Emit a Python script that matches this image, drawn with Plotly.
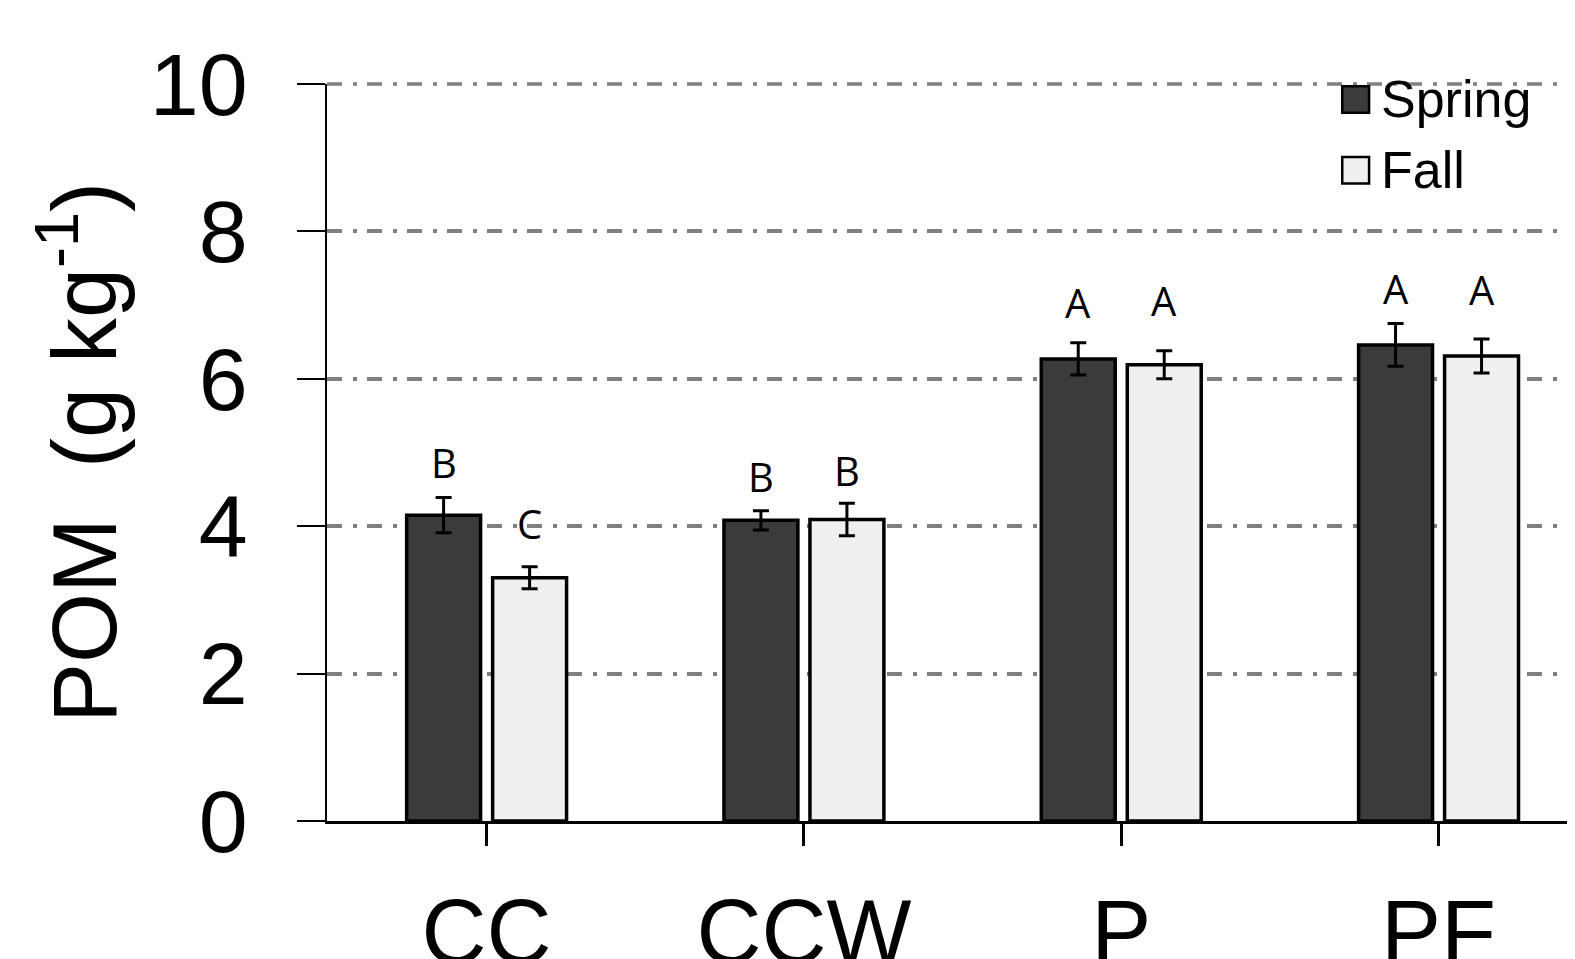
import plotly.graph_objects as go

categories = ["CC", "CCW", "P", "PF"]
spring = [4.15, 4.08, 6.27, 6.46]
spring_se = [0.24, 0.13, 0.22, 0.29]
fall = [3.30, 4.09, 6.19, 6.31]
fall_se = [0.15, 0.22, 0.19, 0.23]
spring_letters = ["B", "B", "A", "A"]
fall_letters = ["C", "B", "A", "A"]
spring_letter_y = [4.87, 4.67, 7.03, 7.23]
fall_letter_y = [4.04, 4.76, 7.06, 7.21]
y_ticks = [0, 2, 4, 6, 8, 10]

xs = list(range(len(categories)))
BAR_W = 0.233
SPRING_OFF = -0.252
FALL_OFF = 0.019
SPRING_COLOR = "#3b3b3b"
FALL_COLOR = "#efefef"
GRID_COLOR = "#808080"
GRID_DASH = "15px,11px,4px,10px"

fig = go.Figure()
fig.add_trace(go.Bar(
    x=xs, y=spring, name="Spring", width=BAR_W, offset=SPRING_OFF,
    marker=dict(color=SPRING_COLOR, line=dict(color="black", width=3.5)),
    error_y=dict(type="data", array=spring_se, color="black", thickness=3, width=8),
    showlegend=False,
))
fig.add_trace(go.Bar(
    x=xs, y=fall, name="Fall", width=BAR_W, offset=FALL_OFF,
    marker=dict(color=FALL_COLOR, line=dict(color="black", width=3.5)),
    error_y=dict(type="data", array=fall_se, color="black", thickness=3, width=8),
    showlegend=False,
))

letter_font = dict(family="Open Sans", size=40, color="black")
for i in xs:
    fig.add_annotation(x=i + SPRING_OFF + BAR_W / 2, y=spring_letter_y[i], text=spring_letters[i],
                       showarrow=False, font=letter_font, xanchor="center", yanchor="middle")
    fig.add_annotation(x=i + FALL_OFF + BAR_W / 2, y=fall_letter_y[i], text=fall_letters[i],
                       showarrow=False, font=letter_font, xanchor="center", yanchor="middle")

# top gridline (plotly omits the grid line lying on the range end); paper ref so it is not clipped
fig.add_shape(type="line", xref="paper", yref="paper", x0=0, x1=1, y0=1, y1=1,
              line=dict(color=GRID_COLOR, width=3.5, dash=GRID_DASH), layer="below")

# manual legend (large swatches)
legend_items = [("Spring", SPRING_COLOR, 0.979), ("Fall", FALL_COLOR, 0.883)]
sw = 0.0215
sh = 0.036
for label, col, yc in legend_items:
    fig.add_shape(type="rect", xref="paper", yref="paper",
                  x0=0.8135, x1=0.8135 + sw, y0=yc - sh / 2, y1=yc + sh / 2,
                  fillcolor=col, line=dict(color="black", width=2.5), layer="above")
    fig.add_annotation(xref="paper", yref="paper", x=0.843, y=yc, text=label,
                       showarrow=False, xanchor="left", yanchor="middle",
                       font=dict(family="Liberation Sans", size=52, color="black"))

fig.update_layout(
    width=1567, height=951,
    margin=dict(l=319, r=0, t=76, b=138, autoexpand=False),
    paper_bgcolor="white", plot_bgcolor="white",
    font=dict(family="Liberation Sans", color="black"),
    showlegend=False,
    barmode="overlay",
)
fig.update_xaxes(
    range=[-0.503, 3.43], tickvals=xs, ticktext=categories,
    showline=True, linecolor="black", linewidth=3,
    ticks="outside", ticklen=22, tickwidth=3, tickcolor="black",
    tickfont=dict(family="Liberation Sans", size=90, color="black"),
    ticklabelstandoff=9,
    showgrid=False, zeroline=False,
)
fig.update_yaxes(
    range=[0, 10], tickvals=y_ticks,
    showline=True, linecolor="black", linewidth=1.5,
    ticks="outside", ticklen=28, tickwidth=1.5, tickcolor="black",
    tickfont=dict(family="Liberation Sans", size=88, color="black"),
    ticklabelstandoff=32,
    showgrid=True, gridcolor=GRID_COLOR, gridwidth=3.5, griddash=GRID_DASH,
    zeroline=False,
    title=dict(text="POM  (g kg<sup>-1</sup>)", font=dict(family="Liberation Sans", size=90, color="black"),
               standoff=3),
)

fig.write_html("out.html")
